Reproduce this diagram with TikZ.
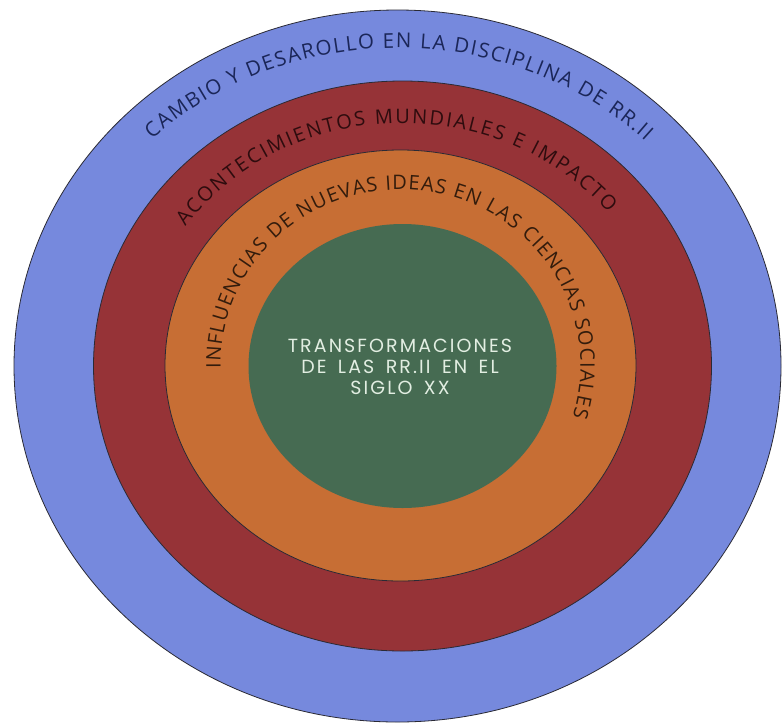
\documentclass[tikz,border=0pt]{standalone}
\usepackage{fontspec}
\setmainfont{Open Sans}
\newfontfamily\ctrfont[LetterSpace=11,WordSpace=1.6]{Poppins}
\usetikzlibrary{shapes.geometric,decorations.text}
\definecolor{cblue}{HTML}{7689DD}
\definecolor{cred}{HTML}{963337}
\definecolor{corange}{HTML}{C76E34}
\definecolor{cgreen}{HTML}{466B52}
\definecolor{ringline}{HTML}{2A2A35}
\definecolor{tblue}{HTML}{1B2658}
\definecolor{tred}{HTML}{2E0C0E}
\definecolor{torange}{HTML}{331C0C}
\definecolor{tgreen}{HTML}{E2EEE2}
\begin{document}
\begin{tikzpicture}[x=1pt,y=1pt,
  ring/.style={ellipse, inner sep=0pt, draw=ringline, line width=0.8pt},
  ringtext/.style={decorate, decoration={text along path, text align=fit to path, text={#1}}}]
\useasboundingbox (0,0) rectangle (783,-723);
\fill[white] (0,0) rectangle (783,-723);
\node[ring, fill=cblue, minimum width=767, minimum height=712] (blue) at (397.5,-366) {};
\node[ring, fill=cred, minimum width=618, minimum height=570] (red) at (402.5,-366) {};
\node[ring, fill=corange, minimum width=471, minimum height=431] (orange) at (400.5,-365.5) {};
\node[ellipse, inner sep=0pt, fill=cgreen, minimum width=308, minimum height=284] (green) at (402.5,-366) {};
\path[ringtext={|\fontsize{20.5}{24}\selectfont\color{tblue}|CAMBIO Y DESAROLLO EN LA DISCIPLINA DE RR.II}]
  ([shift={(134.5:350 and 318)}]blue.center) arc[start angle=134.5, end angle=45, x radius=350, y radius=318];
\path[ringtext={|\fontsize{20}{24}\selectfont\color{tred}|ACONTECIMIENTOS MUNDIALES E IMPACTO}]
  ([shift={(145:265 and 243)}]red.center) arc[start angle=145, end angle=39, x radius=265, y radius=243];
\path[ringtext={|\fontsize{20}{24}\selectfont\color{torange}|INFLUENCIAS DE NUEVAS IDEAS EN LAS CIENCIAS SOCIALES}]
  ([shift={(181:180 and 176)}]orange.center) arc[start angle=181, end angle=-17, x radius=180, y radius=176];
\node[align=center, text=tgreen, font={\ctrfont\fontsize{19}{21}\selectfont}] (ctext) at (400,-367) {TRANSFORMACIONES\\DE LAS RR.II EN EL\\SIGLO XX};
\end{tikzpicture}
\end{document}
